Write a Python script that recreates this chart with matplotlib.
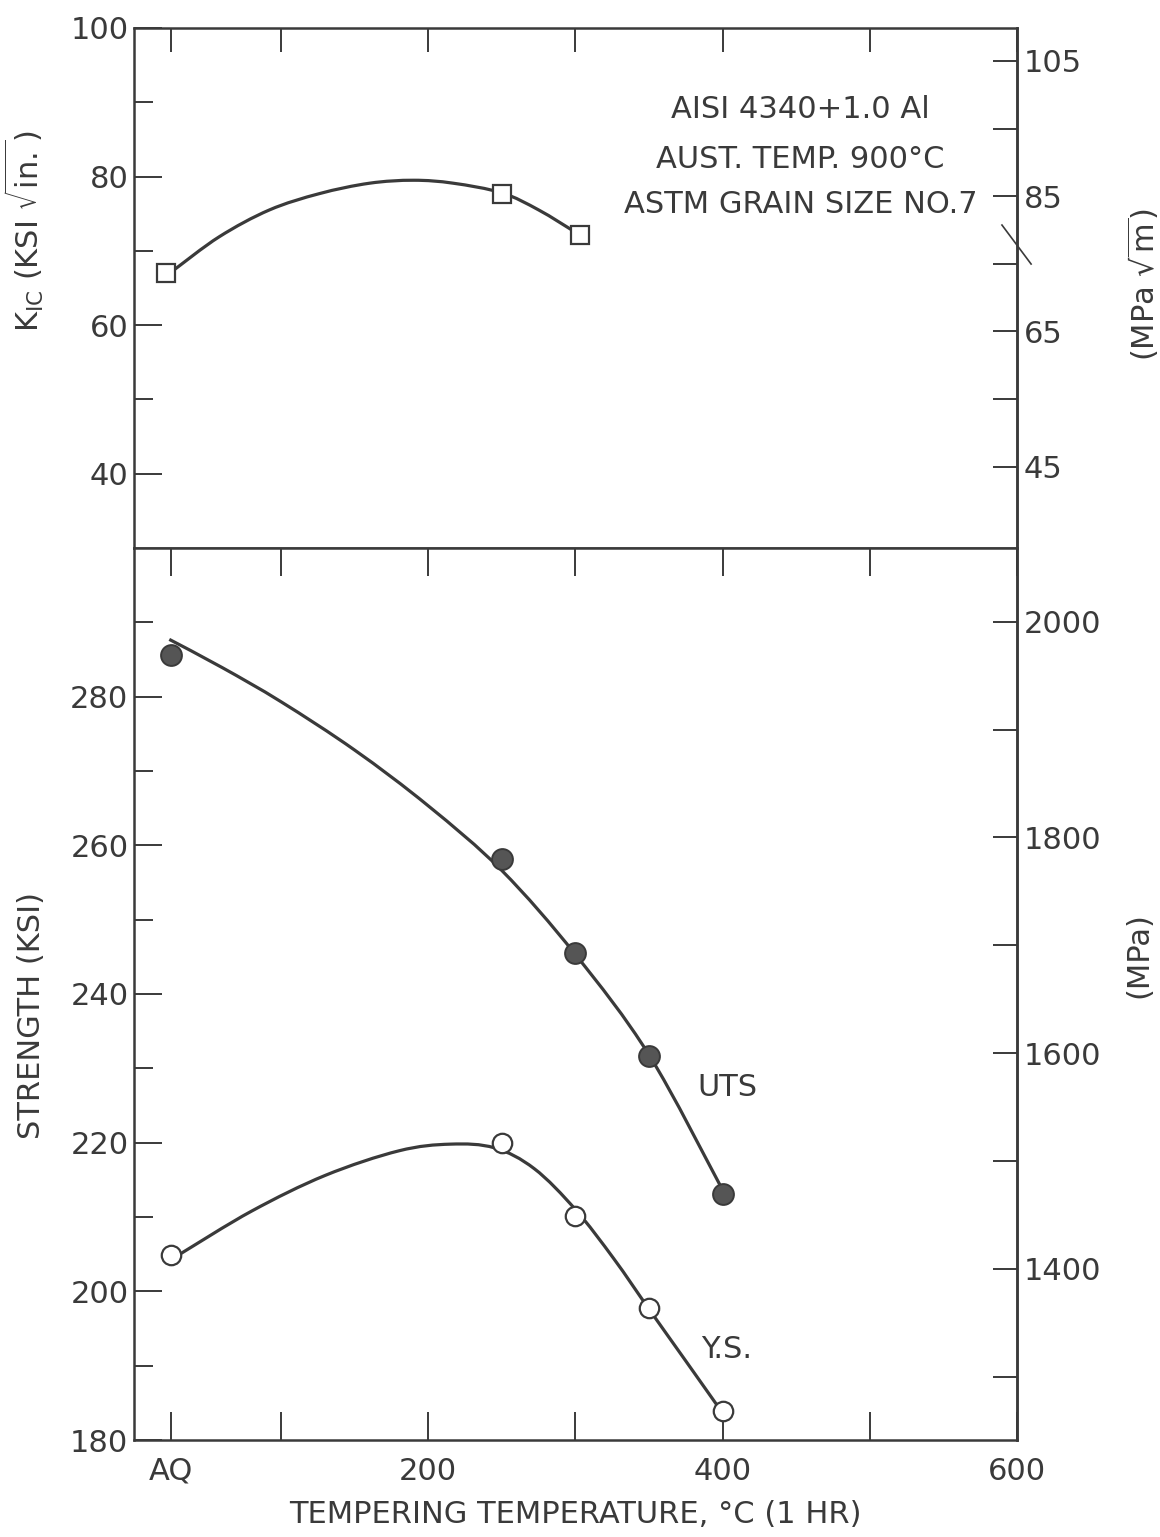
import matplotlib.pyplot as plt
from matplotlib.path import Path
from matplotlib.patches import PathPatch
from matplotlib.ticker import FixedLocator, NullFormatter

# tempering temperature in C, AQ (as quenched) sits at room temperature
kic_temp = [22, 250, 303]
kic_ksi = [67.0, 77.7, 72.1]
# drawn trend line
kic_curve_temp = [27, 58, 92, 126, 160, 190, 217, 250, 275, 300]
kic_curve_ksi = [67.4, 71.9, 75.5, 77.7, 79.1, 79.5, 79.1, 77.8, 75.5, 72.5]

temps = [25, 250, 300, 350, 400]
uts_ksi = [285.6, 258.2, 245.5, 231.6, 213.1]
ys_ksi = [204.9, 219.9, 210.1, 197.8, 183.9]

uts_curve_temp = [24, 60, 100, 150, 200, 250, 300, 350, 399]
uts_curve_ksi = [287.7, 283.9, 279.3, 272.8, 265.3, 256.6, 245.3, 231.8, 214.0]
ys_curve_temp = [32, 80, 130, 180, 215, 245, 272, 300, 326, 350, 374, 399]
ys_curve_ksi = [205.1, 210.8, 215.6, 218.9, 219.8, 219.3, 216.5, 211.0, 204.4,
                197.6, 190.9, 183.9]

x_ticks = [25, 100, 200, 300, 400, 500, 600]
x_labels = ['AQ', '', '200', '', '400', '', '600']

KSI_TO_MPA = 6.895
KSIIN_TO_MPAM = 1.0988

ink = '#3a3a3a'
fs = 22
plt.rcParams['font.family'] = ['DejaVu Sans']
plt.rcParams['mathtext.fontset'] = 'dejavusans'
plt.rcParams['text.color'] = ink
plt.rcParams['axes.labelcolor'] = ink


def smooth_curve(ax, xs, ys):
    # hand-drawn french-curve look: bezier segments through the read points
    pts = list(zip(xs, ys))
    n = len(pts)
    verts = [pts[0]]
    codes = [Path.MOVETO]
    for i in range(n - 1):
        p0 = pts[i - 1] if i > 0 else pts[i]
        p1, p2 = pts[i], pts[i + 1]
        p3 = pts[i + 2] if i + 2 < n else pts[i + 1]
        c1 = (p1[0] + (p2[0] - p0[0]) / 6, p1[1] + (p2[1] - p0[1]) / 6)
        c2 = (p2[0] - (p3[0] - p1[0]) / 6, p2[1] - (p3[1] - p1[1]) / 6)
        verts += [c1, c2, p2]
        codes += [Path.CURVE4] * 3
    ax.add_patch(PathPatch(Path(verts, codes), fill=False, edgecolor=ink,
                           lw=2.3, zorder=2))


fig = plt.figure(figsize=(11.6, 15.37), dpi=100)
ax1 = fig.add_axes([0.1155, 0.6435, 0.7612, 0.3383])
ax2 = fig.add_axes([0.1155, 0.0631, 0.7612, 0.5804], sharex=ax1)

for ax in (ax1, ax2):
    for sp in ax.spines.values():
        sp.set_linewidth(1.8)
        sp.set_color(ink)
    ax.set_xlim(0, 600)
    ax.set_xticks(x_ticks)
    ax.tick_params(axis='y', which='major', direction='in', length=20, width=1.4,
                   colors=ink, labelsize=fs, pad=4, right=False)
    ax.tick_params(axis='y', which='minor', direction='in', length=14, width=1.4,
                   colors=ink, right=False)

# top panel: fracture toughness
ax1.set_ylim(30, 100)
ax1.set_yticks([40, 60, 80, 100])
ax1.yaxis.set_minor_locator(FixedLocator([50, 70, 90]))
ax1.tick_params(axis='x', direction='in', length=17, width=1.4, colors=ink,
                top=True, bottom=False, labelbottom=False)
smooth_curve(ax1, kic_curve_temp, kic_curve_ksi)
ax1.plot(kic_temp, kic_ksi, 's', ms=13, mfc='white', mec=ink, mew=1.6, zorder=3)
ax1.set_ylabel(r'K$_{\rm IC}$ (KSI $\sqrt{\rm in.}$)', fontsize=fs)
ax1.yaxis.set_label_coords(-0.10, 0.61)

ax1.text(453, 89, 'AISI 4340+1.0 Al', ha='center', va='center', fontsize=fs)
ax1.text(453, 82.3, 'AUST. TEMP. 900°C', ha='center', va='center', fontsize=fs)
ax1.text(453, 76.3, 'ASTM GRAIN SIZE NO.7', ha='center', va='center', fontsize=fs)
# stray pen stroke across the right spine
ax1.plot([0.983, 1.016], [0.621, 0.546], transform=ax1.transAxes, color=ink,
         lw=1.2, clip_on=False)

sec1 = ax1.secondary_yaxis('right', functions=(lambda v: v * KSIIN_TO_MPAM,
                                               lambda v: v / KSIIN_TO_MPAM))
sec1.set_yticks([45, 65, 85, 105])
sec1.yaxis.set_minor_locator(FixedLocator([55, 75, 95]))
sec1.yaxis.set_minor_formatter(NullFormatter())
sec1.tick_params(which='both', direction='in', length=17, width=1.4, colors=ink,
                 labelsize=fs, pad=5)
sec1.spines['right'].set_linewidth(1.8)
sec1.spines['right'].set_color(ink)
sec1.set_ylabel(r'(MPa $\sqrt{\rm m}$)', fontsize=fs)
sec1.yaxis.set_label_coords(1.122, 0.506, transform=ax1.transAxes)

# bottom panel: strength
ax2.set_ylim(180, 300)
ax2.set_yticks([180, 200, 220, 240, 260, 280])
ax2.yaxis.set_minor_locator(FixedLocator([190, 210, 230, 250, 270, 290]))
ax2.set_xticklabels(x_labels)
ax2.tick_params(axis='x', direction='in', length=20, width=1.4, colors=ink,
                top=True, labelsize=fs, pad=12)
smooth_curve(ax2, uts_curve_temp, uts_curve_ksi)
smooth_curve(ax2, ys_curve_temp, ys_curve_ksi)
ax2.plot(temps, uts_ksi, 'o', ms=15, mfc='#555555', mec=ink, mew=1.4, zorder=3)
ax2.plot(temps, ys_ksi, 'o', ms=14, mfc='white', mec=ink, mew=1.6, zorder=3)
ax2.text(403, 227.4, 'UTS', ha='center', va='center', fontsize=fs)
ax2.text(403, 192.2, 'Y.S.', ha='center', va='center', fontsize=fs)
ax2.set_ylabel('STRENGTH (KSI)', fontsize=fs)
ax2.yaxis.set_label_coords(-0.10, 0.476)
ax2.set_xlabel('TEMPERING TEMPERATURE, °C (1 HR)', fontsize=fs, labelpad=10)

sec2 = ax2.secondary_yaxis('right', functions=(lambda v: v * KSI_TO_MPA,
                                               lambda v: v / KSI_TO_MPA))
sec2.set_yticks([1400, 1600, 1800, 2000])
sec2.yaxis.set_minor_locator(FixedLocator([1300, 1500, 1700, 1900]))
sec2.yaxis.set_minor_formatter(NullFormatter())
sec2.tick_params(which='both', direction='in', length=17, width=1.4, colors=ink,
                 labelsize=fs, pad=5)
sec2.spines['right'].set_linewidth(1.8)
sec2.spines['right'].set_color(ink)
sec2.set_ylabel('(MPa)', fontsize=fs)
sec2.yaxis.set_label_coords(1.122, 0.544, transform=ax2.transAxes)

fig.savefig('out.png', dpi=100, facecolor='white')
